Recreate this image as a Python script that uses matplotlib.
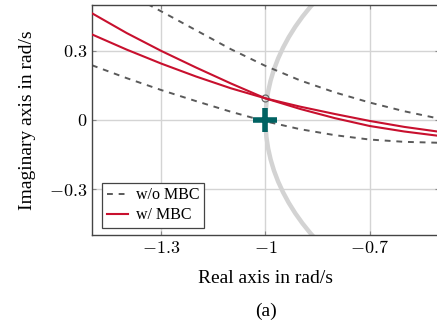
import matplotlib
matplotlib.use('Agg')
import matplotlib.pyplot as plt
from matplotlib.patches import Circle

# Nyquist curves near the critical point, read per branch
x_wo_upper = [-1.34, -1.3, -1.2, -1.1, -1.0, -0.9, -0.8, -0.7, -0.6, -0.5]
y_wo_upper = [0.504, 0.472, 0.390, 0.308, 0.235, 0.172, 0.120, 0.076, 0.038, 0.006]

x_wo_lower = [-1.5, -1.4, -1.3, -1.2, -1.1, -1.0, -0.9, -0.8, -0.7, -0.6, -0.5]
y_wo_lower = [0.238, 0.182, 0.130, 0.082, 0.036, -0.006, -0.040, -0.066, -0.085, -0.095, -0.099]

x_w_1 = [-1.5, -1.4, -1.3, -1.2, -1.1, -1.0, -0.9, -0.8, -0.7, -0.6, -0.5]
y_w_1 = [0.464, 0.378, 0.300, 0.228, 0.159, 0.094, 0.048, 0.008, -0.026, -0.050, -0.069]

x_w_2 = [-1.5, -1.4, -1.3, -1.2, -1.1, -1.0, -0.9, -0.8, -0.7, -0.6, -0.5]
y_w_2 = [0.372, 0.306, 0.245, 0.189, 0.138, 0.094, 0.058, 0.026, -0.004, -0.030, -0.051]

crit_pt = (-1.0, 0.0)
cross_pt = (-1.0, 0.094)

xticks = [-1.3, -1.0, -0.7]
xtick_labels = ['$-1.3$', '$-1$', '$-0.7$']
yticks = [-0.3, 0.0, 0.3]
ytick_labels = ['$-0.3$', '$0$', '$0.3$']

plt.rcParams['font.family'] = 'Liberation Serif'
plt.rcParams['mathtext.fontset'] = 'cm'
plt.rcParams['font.size'] = 14

red = '#c8102e'
gray = '#5a5a5a'
teal = '#006262'

fig = plt.figure(figsize=(4.37, 3.28), dpi=100)
ax = fig.add_axes([0.2105, 0.2835, 0.7941, 0.7013])

ax.grid(True, color='#d4d4d4', linewidth=1.0, zorder=0)
ax.set_axisbelow(True)

# unit circle
ax.add_patch(Circle((0, 0), 1.0, fill=False, edgecolor='#d3d3d3', linewidth=3.2, zorder=1))

ax.plot(x_wo_upper, y_wo_upper, color=gray, linestyle=(0, (3, 3)), linewidth=1.4, zorder=2)
ax.plot(x_wo_lower, y_wo_lower, color=gray, linestyle=(0, (3, 3)), linewidth=1.4, zorder=2,
        label='w/o MBC')
ax.plot(cross_pt[0], cross_pt[1], marker='o', markersize=5, markerfacecolor='none',
        markeredgecolor='#6a6a6a', markeredgewidth=0.9, zorder=2)
ax.plot(x_w_1, y_w_1, color=red, linewidth=1.5, zorder=3, label='w/ MBC')
ax.plot(x_w_2, y_w_2, color=red, linewidth=1.5, zorder=3)
ax.plot(crit_pt[0], crit_pt[1], marker='+', markersize=17, markeredgewidth=4,
        color=teal, zorder=4)

ax.set_xlim(-1.5, -0.5)
ax.set_ylim(-0.5, 0.5)
ax.set_xticks(xticks)
ax.set_xticklabels(xtick_labels)
ax.set_yticks(yticks)
ax.set_yticklabels(ytick_labels)
ax.tick_params(direction='in', length=3, color='#888888', top=True, right=True, labelsize=13)

for s in ax.spines.values():
    s.set_color('#444444')
    s.set_linewidth(1.0)

xl = ax.set_xlabel('Real axis in rad/s')
yl = ax.set_ylabel('Imaginary axis in rad/s')
ax.xaxis.set_label_coords(0.5, -0.187)
ax.yaxis.set_label_coords(-0.187, 0.5)
xl.set_va('center')
yl.set_va('center')

leg = ax.legend(loc='lower left', bbox_to_anchor=(0.03, 0.03), fancybox=False,
                edgecolor='#444444', framealpha=1, handlelength=1.3, handletextpad=0.5,
                borderpad=0.3, labelspacing=0.25, fontsize=11.5, borderaxespad=0)
leg.get_frame().set_linewidth(0.9)

fig.text(0.608, 0.052, '(a)', ha='center', va='center', fontsize=14)

fig.savefig('out.png', dpi=100)
